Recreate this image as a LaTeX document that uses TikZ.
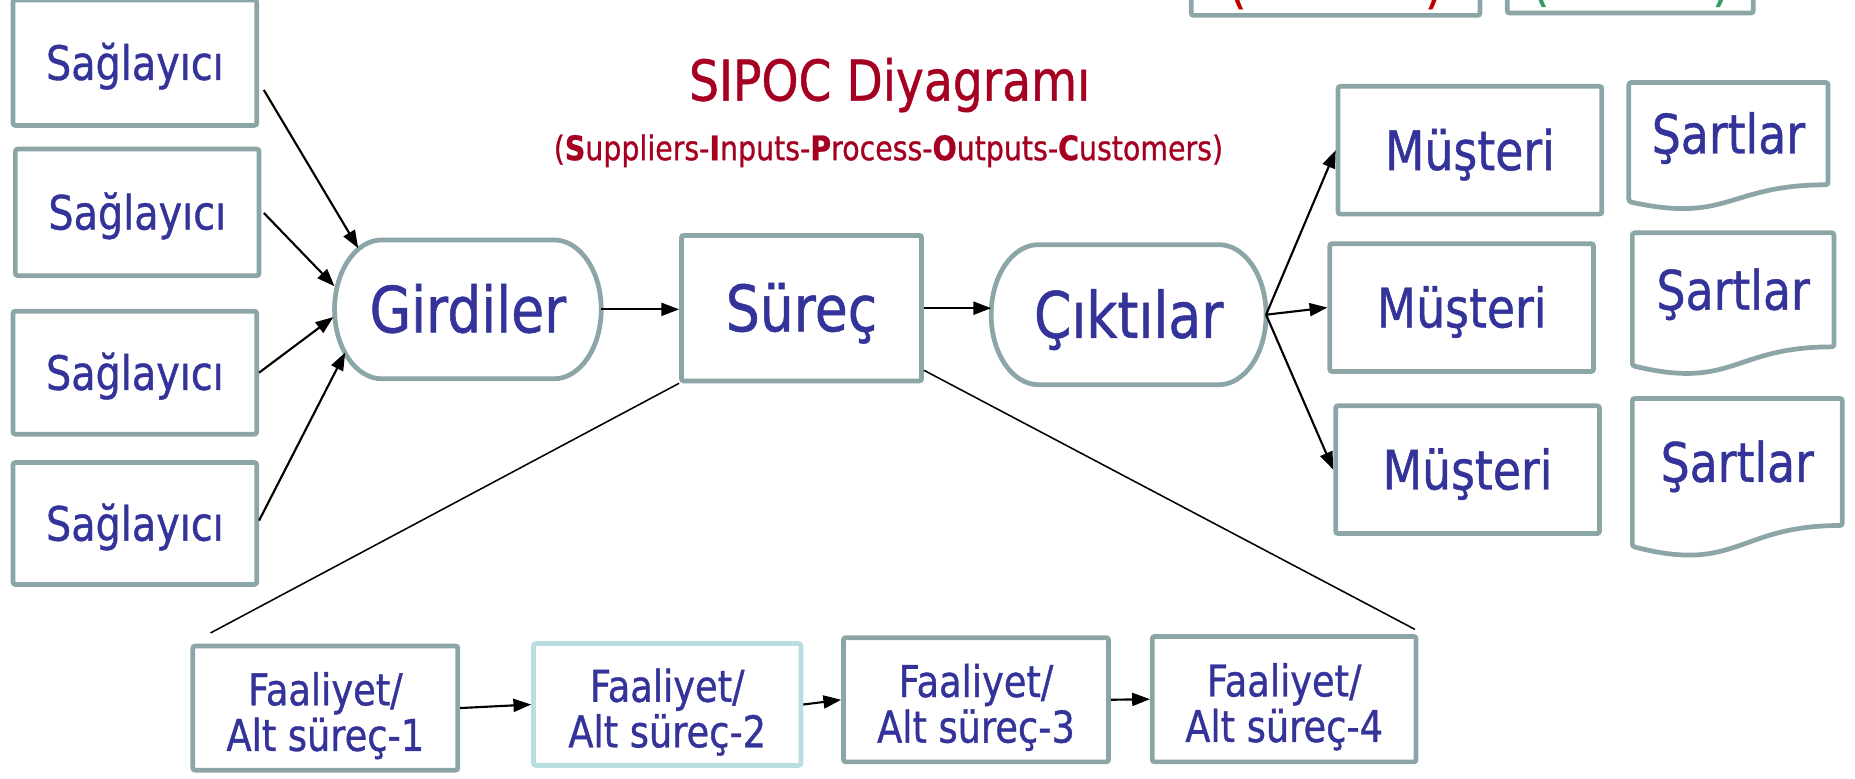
\documentclass[tikz,border=0pt]{standalone}
\usepackage{fontspec}
\setmainfont{DejaVu Sans}[FakeStretch=0.84,FakeBold=0.8]
\usetikzlibrary{arrows.meta,calc}
\definecolor{bordc}{HTML}{8CA5A7}
\definecolor{lightb}{HTML}{B9DEE2}
\definecolor{txtb}{HTML}{333399}
\definecolor{titr}{HTML}{A50021}
\definecolor{parr}{HTML}{C00000}
\definecolor{parg}{HTML}{339966}
\newcommand\ovalpath[2]{%
  \draw[bord,sharp corners] let \p1=(#1.north west), \p2=(#1.south east),
    \n1={#2}, \n2={(\y1-\y2)/2}, \n3={0.5523*#2}, \n4={0.5523*(\y1-\y2)/2} in
    (\x1+\n1,\y1) -- (\x2-\n1,\y1)
    .. controls (\x2-\n1+\n3,\y1) and (\x2,\y1-\n2+\n4) .. (\x2,\y1-\n2)
    .. controls (\x2,\y2+\n2-\n4) and (\x2-\n1+\n3,\y2) .. (\x2-\n1,\y2)
    -- (\x1+\n1,\y2)
    .. controls (\x1+\n1-\n3,\y2) and (\x1,\y2+\n2-\n4) .. (\x1,\y2+\n2)
    .. controls (\x1,\y1-\n2+\n4) and (\x1+\n1-\n3,\y1) .. cycle;}
\newcommand\docpath[1]{%
  \draw[bord] let \p1=(#1.north west), \p2=(#1.south east), \n1={\y1-\y2} in
    (\x1,\y1) -- (\x2,\y1) -- (\x2,\y2)
    .. controls ({(\x1+\x2)/2},\y2) and ({(\x1+\x2)/2},{\y2-0.38*\n1}) .. (\x1,{\y2-0.1646*\n1}) -- cycle;}
\newcommand\fstrut{\rule{0pt}{41pt}}
\begin{document}
\begin{tikzpicture}[x=1pt,y=-1pt,
  bord/.style={draw=bordc,line width=4pt,rounded corners=2pt},
  box/.style={bord,fill=white,text=txtb,inner sep=0pt,align=center},
  plain/.style={text=txtb,inner sep=0pt,align=center},
  supbox/.style={box,minimum width=206pt,minimum height=106pt,font=\fontsize{40}{48}\selectfont,text height=29pt,text depth=0pt},
  big/.style={plain,font=\fontsize{54}{60}\selectfont,text height=39pt,text depth=0pt},
  musbox/.style={box,minimum width=223pt,minimum height=108pt,font=\fontsize{46}{52}\selectfont,text height=33.5pt,text depth=0pt},
  docbox/.style={plain,font=\fontsize{46}{52}\selectfont,text height=33.5pt,text depth=0pt},
  fabox/.style={box,minimum width=224pt,minimum height=105pt,font=\fontsize{37}{38.5}\selectfont},
  arr/.style={-{Triangle[length=15pt,width=11pt]},line width=1.8pt,black},
  thinline/.style={line width=1.3pt,black}]
\useasboundingbox (0,0) rectangle (1568,658);
\clip (0,0) rectangle (1568,658);

% top partial boxes (cut by the top edge, as in the reference)
\node[box,minimum width=244pt,minimum height=60pt,anchor=south] (t1) at (1129,15) {};
\node[box,minimum width=208pt,minimum height=60pt,anchor=south] (t2) at (1378,13) {};
\node[text=parr,font=\fontsize{46}{50}\selectfont,anchor=south,inner sep=0pt] (p1) at (1046,8) {(};
\node[text=parr,font=\fontsize{46}{50}\selectfont,anchor=south,inner sep=0pt] (p2) at (1212,8) {)};
\node[text=parg,font=\fontsize{46}{50}\selectfont,anchor=south,inner sep=0pt] (p3) at (1302,6) {(};
\node[text=parg,font=\fontsize{46}{50}\selectfont,anchor=south,inner sep=0pt] (p4) at (1455,6) {)};

% suppliers
\node[supbox] (s1) at (114,53) {Sağlayıcı};
\node[supbox,minimum height=107pt] (s2) at (116,179.5) {Sağlayıcı};
\node[supbox,minimum height=104pt] (s3) at (114,315) {Sağlayıcı};
\node[supbox,minimum height=103pt] (s4) at (114,442.5) {Sağlayıcı};

% title
\node[text=titr,font=\fontsize{47.5}{56}\selectfont,text height=34pt,text depth=0pt,inner sep=0pt] (title) at (752,68) {SIPOC Diyagramı};
\node[text=titr,font=\fontsize{28.6}{34}\selectfont,text height=20.8pt,text depth=0pt,inner sep=0pt] (sub) at (751,125)
  {(\textbf{S}uppliers-\textbf{I}nputs-\textbf{P}rocess-\textbf{O}utputs-\textbf{C}ustomers)};

% main chain
\node[big,minimum width=225pt,minimum height=117pt] (gi) at (395.5,261.5) {Girdiler};
\ovalpath{gi}{40}
\node[box,minimum width=203pt,minimum height=123pt,font=\fontsize{54}{60}\selectfont,text height=39pt,text depth=0pt] (su) at (677.5,260.5) {Süreç};
\node[big,minimum width=232pt,minimum height=118pt] (ci) at (954,266) {Çıktılar};
\ovalpath{ci}{40}

% customers
\node[musbox] (m1) at (1242.5,127) {Müşteri};
\node[musbox] (m2) at (1235.5,260) {Müşteri};
\node[musbox] (m3) at (1240.5,397) {Müşteri};

% requirements
\node[docbox,minimum width=168pt,minimum height=86pt] (r1) at (1461,113) {Şartlar};
\docpath{r1}
\node[docbox,minimum width=170pt,minimum height=96pt] (r2) at (1465,245) {Şartlar};
\docpath{r2}
\node[docbox,minimum width=177pt,minimum height=107pt] (r3) at (1468.5,390.5) {Şartlar};
\docpath{r3}

% sub-processes
\node[fabox] (f1) at (275,598.5) {\fstrut Faaliyet/\\Alt süreç-1};
\node[fabox,draw=lightb,minimum width=226pt,minimum height=103pt] (f2) at (564,595.5) {\fstrut Faaliyet/\\Alt süreç-2};
\node[fabox] (f3) at (825,591.5) {\fstrut Faaliyet/\\Alt süreç-3};
\node[fabox,minimum width=223pt,minimum height=106pt] (f4) at (1085.5,591) {\fstrut Faaliyet/\\Alt süreç-4};

% connectors
\draw[arr] ([xshift=4pt,yshift=-23pt]s1.east) -- ([xshift=20pt,yshift=-7pt]gi.north west);
\draw[arr] ([xshift=2pt,yshift=-0.5pt]s2.east) -- ([yshift=19.5pt]gi.west);
\draw[arr] (s3.east) -- ([xshift=-1pt,yshift=-6.5pt]gi.west);
\draw[arr] ([yshift=2.5pt]s4.east) -- ([xshift=9pt,yshift=-36.5pt]gi.west);
\draw[arr] (gi.east) -- (gi.east -| su.west);
\draw[arr] (su.east) -- (su.east -| ci.west);
\draw[arr] (ci.east) -- (m1.west);
\draw[arr] (ci.east) -- (m2.west);
\draw[arr] (ci.east) -- (m3.west);
\draw[arr] (f1.east) -- (f2.west);
\draw[arr] (f2.east) -- (f3.west);
\draw[arr] (f3.east) -- (f4.west);

\coordinate (lc) at (178,535);
\coordinate (rc) at (1196,532);
\draw[thinline] (su.south west) -- (lc);
\draw[thinline] ([yshift=11pt]su.south east) -- (rc);
\end{tikzpicture}
\end{document}
